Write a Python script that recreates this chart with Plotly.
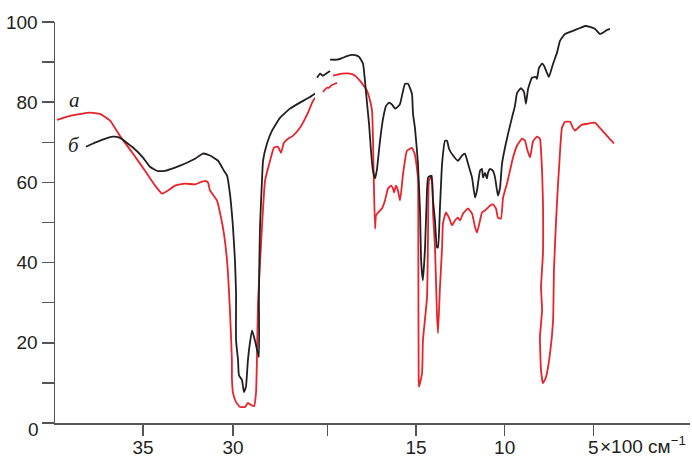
import plotly.graph_objects as go

# wavenumber in units of 100 cm^-1, transmittance in %
# curve "a" (red), part above 2500 cm^-1
a_left_w = [39.78, 39.06, 37.94, 37.39, 36.83, 36.28, 35.56, 34.89, 34.33, 33.94, 33.61, 33.22,
            32.67, 32.11, 31.83, 31.56, 31.39, 31.28, 30.89, 30.56, 30.33, 30.17, 30.06, 30.06,
            30.0, 29.83, 29.61, 29.33, 29.17, 29.0, 28.83, 28.72, 28.67, 28.61, 28.39, 28.22,
            27.94, 27.72, 27.5, 27.33, 27.17, 26.94, 26.67, 26.28, 25.83, 25.56, 25.33]
a_left_t = [75.6, 76.6, 77.4, 77.1, 75.4, 71.6, 67.2, 62.9, 59.2, 57.2, 58.0, 59.2,
            59.7, 59.5, 60.0, 60.4, 60.0, 58.0, 55.5, 48.8, 40.5, 28.1, 15.7, 11.2,
            7.5, 5.2, 4.0, 4.0, 5.0, 4.5, 4.2, 7.5, 15.7, 29.9, 48.8, 60.4,
            65.4, 68.7, 68.9, 67.4, 69.9, 70.9, 71.6, 73.6, 77.4, 80.3, 81.6]
# curve "a", break squiggle
a_brk_w = [20.25, 20.02, 19.91, 19.74, 19.57, 19.46]
a_brk_t = [82.6, 83.6, 83.6, 84.3, 84.6, 84.8]
# curve "a", part below 2000 cm^-1
a_right_w = [19.68, 19.17, 18.72, 18.44, 18.16, 17.93, 17.76, 17.59, 17.48, 17.43, 17.37, 17.31,
             17.26, 17.14, 16.92, 16.75, 16.58, 16.41, 16.30, 16.24, 16.13, 16.02, 15.90, 15.73,
             15.51, 15.23, 15.06, 14.89, 14.87, 14.85, 14.83, 14.66, 14.61, 14.38, 14.32, 14.27,
             14.10, 14.04, 13.93, 13.82, 13.76, 13.65, 13.53, 13.48, 13.31, 13.14, 12.97, 12.80,
             12.63, 12.52, 12.35, 12.07, 11.84, 11.67, 11.56, 11.39, 11.28, 11.11, 10.94, 10.83,
             10.66, 10.49, 10.38, 10.21, 10.09, 9.87, 9.70, 9.53, 9.30, 9.02, 8.85, 8.74,
             8.57, 8.40, 8.18, 8.01, 7.95, 7.89, 7.84, 7.84, 7.95, 7.89, 8.01, 7.95,
             7.84, 7.67, 7.44, 7.27, 7.22, 7.10, 6.99, 6.93, 6.77, 6.60, 6.31, 6.15,
             6.03, 5.86, 5.64, 5.36, 4.91, 4.63, 4.23, 3.83]
a_right_t = [86.6, 87.1, 87.1, 86.6, 85.3, 84.0, 82.8, 80.3, 77.9, 71.1, 58.0, 48.5,
             51.7, 52.5, 53.5, 55.5, 58.5, 59.2, 58.5, 57.5, 59.2, 58.0, 55.5, 62.2,
             67.9, 68.6, 66.9, 61.0, 43.8, 10.7, 9.0, 12.4, 20.6, 31.3, 48.0, 60.4,
             61.7, 52.2, 43.8, 27.4, 22.4, 33.8, 43.8, 49.8, 52.5, 51.2, 49.3, 50.5,
             51.2, 50.5, 52.2, 53.5, 52.2, 48.8, 47.5, 50.5, 52.5, 53.0, 53.7, 54.2,
             54.5, 53.5, 51.2, 51.0, 56.2, 59.7, 62.9, 66.2, 69.2, 70.9, 70.4, 68.4,
             66.2, 70.2, 71.4, 70.9, 68.0, 62.9, 55.0, 42.3, 33.8, 28.1, 21.4, 13.2,
             9.9, 11.4, 17.4, 25.6, 38.1, 50.5, 59.7, 63.7, 73.6, 75.1, 75.1, 73.6,
             72.9, 73.6, 74.4, 74.6, 74.9, 73.6, 71.6, 69.7]

# curve "b" (black), part above 2500 cm^-1
b_left_w = [38.17, 37.39, 36.67, 36.28, 35.56, 35.0, 34.61, 34.22, 33.78, 32.94, 32.11, 31.67,
            31.28, 30.83, 30.5, 30.33, 30.17, 30.0, 29.89, 29.83, 29.83, 29.72, 29.67, 29.5,
            29.39, 29.28, 29.17, 29.06, 28.94, 28.78, 28.56, 28.56, 28.5, 28.39, 28.33, 28.11,
            27.83, 27.39, 26.83, 26.28, 25.72, 25.28]
b_left_t = [68.9, 70.4, 71.4, 71.1, 68.7, 66.2, 63.9, 62.9, 62.9, 64.2, 65.9, 67.2,
            66.7, 65.4, 62.9, 61.7, 57.2, 48.8, 40.5, 32.3, 20.6, 15.7, 11.9, 10.7,
            7.7, 9.0, 15.7, 19.9, 23.1, 20.6, 16.4, 32.3, 48.8, 60.4, 65.4, 69.7,
            72.9, 76.1, 78.4, 79.9, 81.3, 82.6]
# curve "b", break squiggle
b_brk_w = [20.58, 20.41, 20.25, 20.02, 19.85]
b_brk_t = [86.1, 87.1, 86.6, 87.3, 87.8]
# curve "b", part below 2000 cm^-1
b_right_w = [19.85, 19.46, 19.17, 18.89, 18.61, 18.38, 18.21, 17.99, 17.88, 17.76, 17.65, 17.54,
             17.43, 17.31, 17.20, 17.03, 16.86, 16.69, 16.52, 16.35, 16.18, 16.02, 15.90, 15.62,
             15.45, 15.23, 15.17, 15.06, 14.89, 14.77, 14.72, 14.66, 14.61, 14.49, 14.38, 14.32,
             14.15, 14.10, 14.04, 13.93, 13.82, 13.76, 13.65, 13.53, 13.36, 13.25, 13.14, 12.91,
             12.63, 12.41, 12.24, 12.07, 11.84, 11.67, 11.56, 11.39, 11.28, 11.22, 11.11, 11.0,
             10.94, 10.83, 10.66, 10.54, 10.38, 10.26, 10.15, 9.98, 9.81, 9.59, 9.42, 9.30,
             9.08, 8.91, 8.80, 8.68, 8.46, 8.23, 8.18, 8.06, 7.89, 7.78, 7.61, 7.50,
             7.27, 7.05, 6.88, 6.60, 6.15, 5.75, 5.47, 5.19, 4.91, 4.63, 4.40, 4.23, 4.06]
b_right_t = [90.6, 90.6, 91.0, 91.5, 91.8, 91.7, 91.3, 89.6, 85.3, 79.6, 74.6, 67.9,
             62.9, 61.0, 63.4, 70.4, 75.9, 79.1, 79.9, 79.4, 78.4, 78.9, 79.6, 84.6,
             84.6, 82.1, 77.1, 73.6, 64.7, 52.2, 41.3, 37.3, 35.6, 43.8, 58.0, 61.2,
             61.7, 60.4, 55.5, 50.5, 43.8, 43.8, 53.7, 64.7, 70.4, 70.4, 68.4, 66.7,
             65.4, 66.7, 67.2, 64.7, 61.2, 56.2, 58.0, 62.9, 63.4, 61.2, 62.4, 61.0,
             62.4, 63.4, 62.9, 61.2, 56.7, 58.7, 64.7, 68.7, 72.1, 76.1, 79.1, 82.3,
             83.5, 82.6, 79.6, 83.3, 86.1, 86.3, 85.8, 88.6, 89.6, 89.1, 87.3, 86.3,
             89.6, 92.3, 95.3, 97.0, 97.8, 98.5, 99.0, 98.8, 98.3, 97.0, 97.5, 98.0, 98.3]

left_ticks = [35, 30]
right_ticks = [20, 15, 10, 5]
right_ticktext = ["", "15", "10", "5"]
y_ticks = [0, 10, 20, 30, 40, 50, 60, 70, 80, 90, 100]
y_ticktext = ["", "", "20", "", "40", "", "60", "", "80", "", "100"]

RED = "#e8232b"
BLACK = "#231f20"
AXIS = "#555555"
FONT = "Liberation Sans, Arial, sans-serif"

fig = go.Figure()
line_kw = dict(shape="spline", smoothing=0.4)
fig.add_trace(go.Scatter(x=a_left_w, y=a_left_t, mode="lines", xaxis="x", yaxis="y",
                         line=dict(color=RED, width=1.8, **line_kw)))
fig.add_trace(go.Scatter(x=b_left_w, y=b_left_t, mode="lines", xaxis="x", yaxis="y",
                         line=dict(color=BLACK, width=1.8, **line_kw)))
for w, t, c in [(a_brk_w, a_brk_t, RED), (a_right_w, a_right_t, RED),
                (b_brk_w, b_brk_t, BLACK), (b_right_w, b_right_t, BLACK)]:
    fig.add_trace(go.Scatter(x=w, y=t, mode="lines", xaxis="x2", yaxis="y",
                             line=dict(color=c, width=1.8, **line_kw)))

axis_common = dict(showline=True, linecolor=AXIS, linewidth=1.5, ticks="outside",
                   tickcolor=AXIS, tickwidth=1.5, showgrid=False, zeroline=False,
                   automargin=False,
                   tickfont=dict(family=FONT, size=19, color=BLACK), fixedrange=True)

fig.update_layout(
    width=692, height=458,
    margin=dict(l=55, r=2, t=22, b=35),
    paper_bgcolor="white", plot_bgcolor="white",
    showlegend=False,
    xaxis=dict(domain=[0, 0.422], range=[39.89, 25.0], tickmode="array",
               tickvals=left_ticks, ticklen=11, ticklabelstandoff=-4, anchor="y",
               **axis_common),
    xaxis2=dict(domain=[0.4094, 1], range=[20.70, -0.454], tickmode="array",
                tickvals=right_ticks, ticktext=right_ticktext, ticklen=11,
                ticklabelstandoff=-4, anchor="y", **axis_common),
    yaxis=dict(domain=[0, 1], range=[0, 100], tickmode="array", tickvals=y_ticks,
               ticktext=y_ticktext, ticklen=12, anchor="x", **axis_common),
    annotations=[
        dict(text="0", xref="paper", yref="y", x=0, y=0, xanchor="right", yanchor="middle",
             xshift=-14, yshift=-6, showarrow=False,
             font=dict(family=FONT, size=19, color=BLACK)),
        dict(text="×100 см<sup>−1</sup>", xref="x2", yref="paper", x=4.76, y=0,
             xanchor="left", yanchor="top", yshift=-8, showarrow=False,
             font=dict(family=FONT, size=19, color=BLACK)),
        dict(text="<i>а</i>", xref="x", yref="y", x=38.83, y=80.6, xanchor="center",
             yanchor="middle", showarrow=False,
             font=dict(family="Liberation Serif, Times New Roman, serif", size=21, color=BLACK)),
        dict(text="<i>б</i>", xref="x", yref="y", x=38.83, y=69.3, xanchor="center",
             yanchor="middle", showarrow=False,
             font=dict(family="Liberation Serif, Times New Roman, serif", size=21, color=BLACK)),
    ],
)

fig.write_html("out.html", config={"staticPlot": True},
               post_script="document.body.style.margin='0';document.body.style.overflow='hidden';")
